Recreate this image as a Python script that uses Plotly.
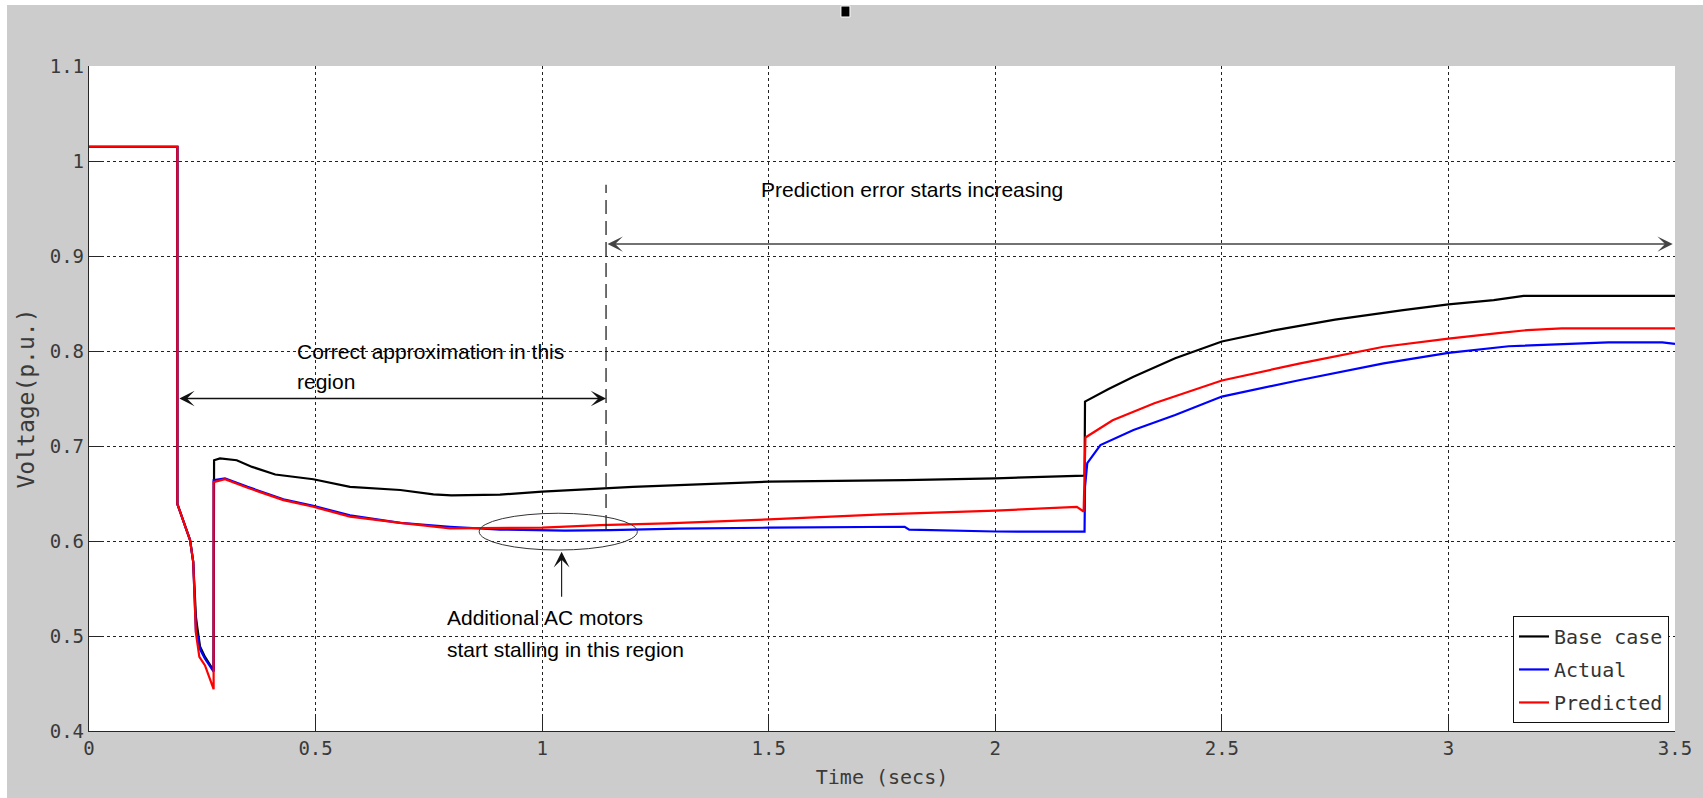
import plotly.graph_objects as go

# ---------------- data ----------------
x_ticks = [0, 0.5, 1, 1.5, 2, 2.5, 3, 3.5]
x_tick_labels = ["0", "0.5", "1", "1.5", "2", "2.5", "3", "3.5"]
y_ticks = [0.4, 0.5, 0.6, 0.7, 0.8, 0.9, 1.0, 1.1]
y_tick_labels = ["0.4", "0.5", "0.6", "0.7", "0.8", "0.9", "1", "1.1"]

base_t = [0, 0.195, 0.195, 0.223, 0.230, 0.236, 0.239, 0.245, 0.256, 0.275, 0.276,
          0.289, 0.326, 0.36, 0.411, 0.495, 0.576, 0.687, 0.76, 0.80, 0.907, 1.0,
          1.2, 1.5, 1.8, 2.0, 2.197, 2.198, 2.25, 2.305, 2.397, 2.5, 2.618, 2.75,
          2.9, 3.0, 3.1, 3.166, 3.5]
base_v = [1.015, 1.015, 0.639, 0.601, 0.578, 0.520, 0.509, 0.489, 0.478, 0.4635, 0.685,
          0.687, 0.685, 0.678, 0.670, 0.665, 0.657, 0.6537, 0.649, 0.648, 0.6488, 0.652,
          0.657, 0.6625, 0.664, 0.666, 0.6688, 0.7467, 0.760, 0.773, 0.7923, 0.810, 0.822, 0.833,
          0.843, 0.849, 0.8535, 0.858, 0.858]

actual_t = [0, 0.195, 0.195, 0.223, 0.230, 0.236, 0.240, 0.245, 0.256, 0.275, 0.275,
            0.30, 0.35, 0.429, 0.495, 0.576, 0.687, 0.797, 0.907, 1.0, 1.05, 1.15,
            1.3, 1.5, 1.8, 1.81, 2.0, 2.197, 2.198, 2.203, 2.232, 2.305, 2.397, 2.5,
            2.673, 2.857, 3.0, 3.133, 3.353, 3.472, 3.5]
actual_v = [1.015, 1.015, 0.639, 0.601, 0.578, 0.504, 0.500, 0.486, 0.476, 0.4625, 0.664,
            0.666, 0.657, 0.644, 0.637, 0.627, 0.619, 0.615, 0.612, 0.6115, 0.611, 0.6115,
            0.613, 0.614, 0.615, 0.612, 0.610, 0.6098, 0.657, 0.682, 0.701, 0.7168, 0.7326, 0.752,
            0.7695, 0.787, 0.798, 0.805, 0.809, 0.809, 0.8074]

pred_t = [0, 0.195, 0.195, 0.223, 0.230, 0.236, 0.2435, 0.256, 0.275, 0.275, 0.30,
          0.35, 0.429, 0.495, 0.576, 0.687, 0.797, 0.907, 1.0, 1.128, 1.275, 1.5,
          1.75, 2.0, 2.18, 2.195, 2.199, 2.259, 2.351, 2.5, 2.673, 2.857, 3.0, 3.115,
          3.174, 3.25, 3.5]
pred_v = [1.015, 1.015, 0.639, 0.601, 0.578, 0.503, 0.478, 0.469, 0.444, 0.662, 0.665,
          0.656, 0.643, 0.636, 0.6256, 0.619, 0.6133, 0.6133, 0.614, 0.6168, 0.6186, 0.6228,
          0.628, 0.632, 0.636, 0.631, 0.709, 0.727, 0.745, 0.769, 0.787, 0.8045, 0.813, 0.819,
          0.822, 0.8239, 0.8239]

series_names = ["Base case", "Actual", "Predicted"]
series_colors = ["#000000", "#0000ff", "#ff0000"]

MONO = "DejaVu Sans Mono"
SANS = "Liberation Sans, Arial"

fig = go.Figure()
for t, v, name, col in zip([base_t, actual_t, pred_t], [base_v, actual_v, pred_v],
                           series_names, series_colors):
    fig.add_trace(go.Scatter(x=t, y=v, mode="lines", name=name, legendgroup=name,
                             line=dict(color=col, width=2.2)))

axis_common = dict(
    showline=True, linecolor="#262626", linewidth=1.3,
    ticks="inside", ticklen=15, tickcolor="#262626", tickwidth=1.3,
    showgrid=True, gridcolor="#222222", gridwidth=1, griddash="3px,3px",
    zeroline=False, tickfont=dict(family=MONO, size=19, color="#3a3a3a"),
)

fig.update_xaxes(range=[0, 3.5], tickvals=x_ticks, ticktext=x_tick_labels,
                 title=dict(text="Time (secs)", font=dict(family=MONO, size=20, color="#3a3a3a"),
                            standoff=12),
                 **axis_common)
fig.update_yaxes(range=[0.4, 1.1], tickvals=y_ticks, ticktext=y_tick_labels,
                 title=dict(text="Voltage(p.u.)", font=dict(family=MONO, size=23, color="#3a3a3a"),
                            standoff=8),
                 **axis_common)

# ---------------- annotation geometry ----------------
split_t = 1.141
shapes = [
    # long-dash vertical separator
    dict(type="line", xref="x", yref="y", x0=split_t, x1=split_t, y0=0.6126, y1=0.975,
         line=dict(color="#111111", width=1.2, dash="14px,7px")),
    # ellipse around the stall region
    dict(type="circle", xref="x", yref="y", x0=0.861, x1=1.210, y0=0.5905, y1=0.6292,
         line=dict(color="#333333", width=1)),
    # white strips at the top and left edges
    dict(type="rect", xref="paper", yref="paper", x0=-0.07, x1=1.03, y0=(731 - 5) / 665, y1=1.12,
         fillcolor="white", line=dict(width=0)),
    dict(type="rect", xref="paper", yref="paper", x0=-0.07, x1=(7 - 89) / 1586, y0=-0.12, y1=1.12,
         fillcolor="white", line=dict(width=0)),
    # small black mark at the top
    dict(type="rect", xref="paper", yref="paper", x0=0.4741, x1=0.4798, y0=1.0737, y1=1.0902,
         fillcolor="black", line=dict(color="white", width=1)),
]

annotations = [
    # double arrow: prediction error region
    dict(x=3.495, y=0.9126, ax=split_t, ay=0.9126, xref="x", yref="y", axref="x", ayref="y",
         text="", showarrow=True, arrowhead=3, startarrowhead=3, arrowside="end+start",
         arrowsize=1.7, startarrowsize=1.7, arrowwidth=1.5, arrowcolor="#444444",
         standoff=0, startstandoff=0),
    # double arrow: correct approximation region
    dict(x=split_t, y=0.750, ax=0.196, ay=0.750, xref="x", yref="y", axref="x", ayref="y",
         text="", showarrow=True, arrowhead=3, startarrowhead=3, arrowside="end+start",
         arrowsize=1.7, startarrowsize=1.7, arrowwidth=1.5, arrowcolor="#111111",
         standoff=0, startstandoff=0),
    # up arrow to the ellipse
    dict(x=1.043, y=0.5887, ax=1.043, ay=0.5397, xref="x", yref="y", axref="x", ayref="y",
         text="", showarrow=True, arrowhead=3, arrowsize=2.4, arrowwidth=1.1,
         arrowcolor="#111111", standoff=0),
    dict(x=1.817, y=0.9695, xref="x", yref="y", text="Prediction error starts increasing",
         showarrow=False, xanchor="center", yanchor="middle",
         font=dict(family=SANS, size=21, color="#000000")),
    dict(x=0.4547, y=0.799, xref="x", yref="y", text="Correct approximation in this",
         showarrow=False, xanchor="left", yanchor="middle",
         font=dict(family=SANS, size=21, color="#000000")),
    dict(x=0.4547, y=0.7684, xref="x", yref="y", text="region",
         showarrow=False, xanchor="left", yanchor="middle",
         font=dict(family=SANS, size=21, color="#000000")),
    dict(x=0.786, y=0.520, xref="x", yref="y", text="Additional AC motors",
         showarrow=False, xanchor="left", yanchor="middle",
         font=dict(family=SANS, size=21, color="#000000")),
    dict(x=0.786, y=0.4863, xref="x", yref="y", text="start stalling in this region",
         showarrow=False, xanchor="left", yanchor="middle",
         font=dict(family=SANS, size=21, color="#000000")),
]

fig.update_layout(
    width=1703, height=798,
    margin=dict(l=89, r=28, t=66, b=67),
    paper_bgcolor="#cccccc", plot_bgcolor="white",
    shapes=shapes, annotations=annotations,
    showlegend=True,
    legend=dict(x=0.9962, y=0.173, xanchor="right", yanchor="top",
                bgcolor="white", bordercolor="#111111", borderwidth=1,
                font=dict(family=MONO, size=20, color="#333333"),
                tracegroupgap=4),
)

fig.write_html("out.html")
